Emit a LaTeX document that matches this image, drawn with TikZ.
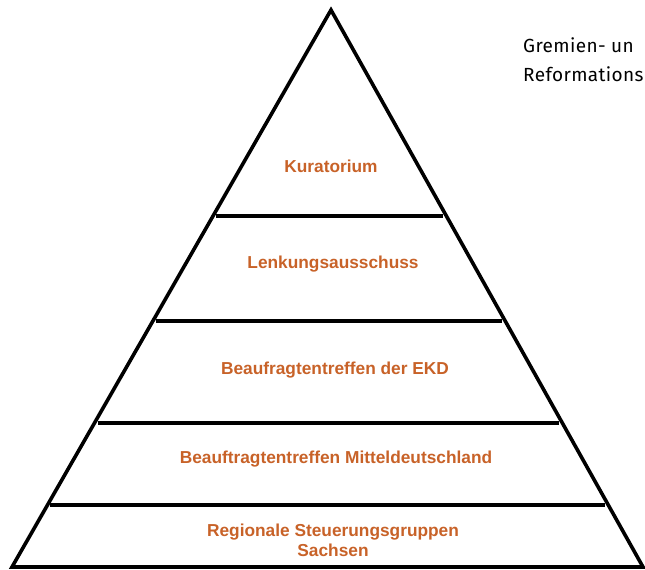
\documentclass[tikz,border=0pt]{standalone}
\usepackage{fontspec}
\setmainfont{Liberation Sans}
\newfontfamily\headfont[LetterSpace=2]{Fira Sans}
\usetikzlibrary{calc}
\definecolor{tierorange}{RGB}{200,98,40}
\begin{document}
\begin{tikzpicture}[x=1pt,y=-1pt,
  outline/.style={line width=3.6pt,line join=miter},
  tierline/.style={line width=3.8pt},
  tierlabel/.style={text=tierorange,font=\fontsize{17.3}{20}\selectfont\bfseries,align=center,inner sep=0pt},
  headtext/.style={font=\headfont\fontsize{19}{22}\selectfont,anchor=base west,inner sep=0pt}]
\clip (0,0) rectangle (645,570);
\fill[white] (0,0) rectangle (645,570);
\coordinate (A) at (331,10);
\coordinate (L) at (12,567);
\coordinate (R) at (643,567);
\draw[outline] (A) -- (L) -- (R) -- cycle;
\foreach \t [count=\i] in {0.370,0.558,0.741,0.889}{
  \coordinate (l\i) at ($(A)!\t!(L)$);
  \coordinate (r\i) at ($(A)!\t!(R)$);
  \draw[tierline] ($(l\i)+(3,0)$) -- ($(r\i)+(-3,0)$);
}
\node[tierlabel] (kur) at (331,166) {Kuratorium};
\node[tierlabel] (lenk) at (333,264) {Lenkungsausschuss};
\node[tierlabel] (ekd) at (335,370) {Beaufragtentreffen der EKD};
\node[tierlabel] (mittel) at (336,459) {Beauftragtentreffen Mitteldeutschland};
\node[tierlabel] (reg) at (333,540) {Regionale Steuerungsgruppen\\Sachsen};
\node[headtext] (h1) at (523,52) {Gremien- un};
\node[headtext] (h2) at (523,81) {Reformations};
\end{tikzpicture}
\end{document}
